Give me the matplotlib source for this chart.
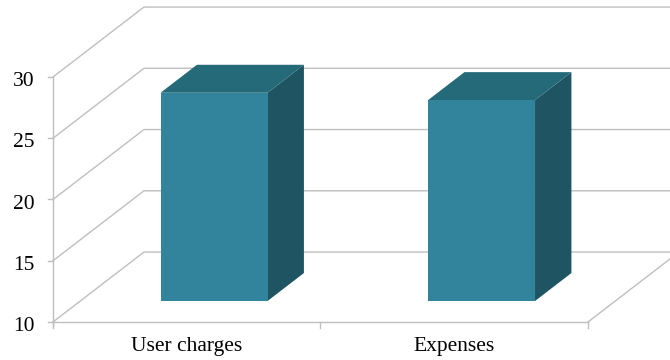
import matplotlib.pyplot as plt
from matplotlib.patches import Polygon

categories = ["User charges", "Expenses"]
values = [27.0, 26.4]
y_ticks = [10, 15, 20, 25, 30]

y_base = 10
depth_x = 0.34    # depth of the floor, in category units
depth_y = 5.71    # depth of the floor, in value units
bar_w = 0.4
bar_front = 0.3   # bar front sits 30% into the depth
bar_depth = 0.4

front_col = "#31849b"
top_col = "#246a78"
side_col = "#1f5462"
grid_col = "#bfbfbf"

plt.rcParams["font.family"] = ["Liberation Serif", "DejaVu Serif"]

fig = plt.figure(figsize=(6.7, 3.6), dpi=100)
ax = fig.add_axes([0, 0, 1, 1])
ax.set_xlim(-53 / 267.5, 2 + 82 / 267.5)
ax.set_ylim(10 - 38 / 12.25, 10 + 322 / 12.25)
ax.axis("off")

n = len(categories)

# walls: gridlines run from the front axis back and across the back wall
for v in y_ticks:
    ax.plot([0, depth_x, n + depth_x + 1], [v, v + depth_y, v + depth_y],
            color=grid_col, lw=1, zorder=1)
    ax.plot([-0.02, 0], [v, v], color=grid_col, lw=1, zorder=1)
    ax.annotate(str(v), xy=(0, v), xytext=(-13.5, -1.5), textcoords="offset points",
                ha="right", va="center_baseline", fontsize=15.5, color="#000000")

# axes and floor
ax.plot([0, 0], [y_base - 0.3, y_ticks[-1]], color=grid_col, lw=1, zorder=1)
ax.plot([0, n], [y_base, y_base], color=grid_col, lw=1, zorder=1)
ax.plot([n, n + depth_x], [y_base, y_base + depth_y], color=grid_col, lw=1, zorder=1)
for i in range(n + 1):
    ax.plot([i, i], [y_base, y_base - 0.5], color=grid_col, lw=1, zorder=1)

for i, (cat, v) in enumerate(zip(categories, values)):
    ax.annotate(cat, xy=(i + 0.5, y_base), xytext=(0, -11), textcoords="offset points",
                ha="center", va="top", fontsize=15.5, color="#000000")

    x0 = i + 0.5 - bar_w / 2 + bar_front * depth_x
    x1 = x0 + bar_w
    y0 = y_base + bar_front * depth_y
    y1 = v + bar_front * depth_y
    ddx = bar_depth * depth_x
    ddy = bar_depth * depth_y

    side = Polygon([(x1, y0), (x1 + ddx, y0 + ddy), (x1 + ddx, y1 + ddy), (x1, y1)],
                   closed=True, facecolor=side_col, edgecolor="none", zorder=3)
    top = Polygon([(x0, y1), (x1, y1), (x1 + ddx, y1 + ddy), (x0 + ddx, y1 + ddy)],
                  closed=True, facecolor=top_col, edgecolor="none", zorder=3)
    front = Polygon([(x0, y0), (x1, y0), (x1, y1), (x0, y1)],
                    closed=True, facecolor=front_col, edgecolor="none", zorder=4)
    ax.add_patch(side)
    ax.add_patch(top)
    ax.add_patch(front)

fig.savefig("out.png", dpi=100)
